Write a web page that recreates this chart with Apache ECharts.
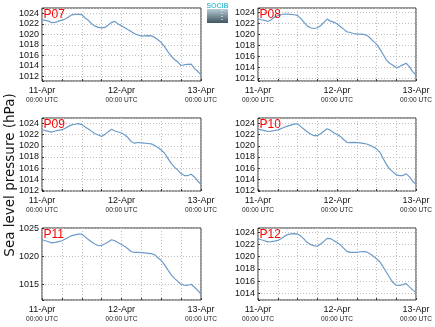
<!DOCTYPE html>
<html><head><meta charset="utf-8">
<script src="https://cdn.jsdelivr.net/npm/echarts@6/dist/echarts.min.js"></script>
<style>html,body{margin:0;padding:0;background:#fff}#c{width:435px;height:327px}</style>
</head><body><div id="c"></div>
<script>
// ---- data ----
const hours = [0,1,2,3,4,5,6,7,8,9,10,11,12,13,14,15,16,17,18,19,20,21,22,23,24,25,26,27,28,29,30,31,32,33,34,35,36,37,38,39,40,41,42,43,44,45,46,47,48];
const stations = ['P07','P08','P09','P10','P11','P12'];
const p07 = [1022.78,1022.65,1022.5,1022.2,1022.25,1022.5,1022.7,1022.9,1023.3,1023.7,1023.8,1023.8,1023.75,1023.1,1022.65,1022.0,1021.55,1021.3,1021.2,1021.3,1021.75,1022.25,1022.45,1021.95,1021.6,1021.25,1020.85,1020.5,1020.1,1019.85,1019.65,1019.7,1019.75,1019.7,1019.4,1018.95,1018.4,1017.65,1016.7,1015.85,1015.2,1014.7,1014.05,1014.2,1014.25,1014.3,1013.5,1012.95,1012.25];
const p08 = [1022.84,1022.66,1022.54,1022.35,1022.66,1023.15,1023.4,1023.57,1023.7,1023.7,1023.63,1023.57,1023.45,1022.9,1022.17,1021.5,1021.2,1021.07,1021.2,1021.56,1022.17,1022.78,1022.41,1022.23,1021.93,1021.44,1020.95,1020.47,1020.34,1020.16,1020.04,1020.04,1019.98,1019.86,1019.37,1018.76,1018.21,1017.36,1016.38,1015.35,1014.74,1014.38,1013.89,1014.13,1014.44,1014.74,1014.13,1013.22,1012.6];
const p09 = [1022.9,1022.73,1022.6,1022.48,1022.67,1022.79,1022.9,1023.15,1023.5,1023.76,1023.88,1024.0,1023.82,1023.4,1023.03,1022.6,1022.18,1021.94,1021.7,1022.06,1022.55,1022.97,1022.67,1022.48,1022.3,1021.94,1021.45,1020.73,1020.48,1020.6,1020.55,1020.48,1020.42,1020.36,1020.06,1019.7,1019.27,1018.67,1017.76,1016.85,1016.18,1015.64,1015.03,1014.67,1014.67,1014.9,1014.42,1013.7,1013.1];
const p10 = [1023.03,1022.88,1022.73,1022.58,1022.64,1022.76,1022.88,1023.09,1023.33,1023.55,1023.73,1023.91,1023.97,1023.45,1022.97,1022.48,1022.12,1021.82,1021.82,1022.18,1022.61,1023.06,1022.79,1022.36,1022.03,1021.7,1021.15,1020.64,1020.58,1020.64,1020.58,1020.52,1020.45,1020.33,1020.12,1019.82,1019.45,1018.91,1017.76,1016.67,1015.82,1015.33,1014.79,1014.67,1014.67,1014.97,1014.48,1013.64,1013.09];
const p11 = [1023.02,1022.84,1022.66,1022.46,1022.54,1022.69,1022.84,1023.14,1023.47,1023.77,1023.89,1024.01,1024.04,1023.53,1023.05,1022.6,1022.25,1021.95,1022.0,1022.31,1022.63,1023.02,1022.84,1022.49,1022.16,1021.83,1021.35,1020.87,1020.75,1020.75,1020.72,1020.66,1020.6,1020.54,1020.33,1019.79,1019.31,1018.53,1017.63,1016.74,1016.11,1015.57,1015.06,1014.91,1014.88,1015.06,1014.58,1013.98,1013.32];
const p12 = [1022.91,1022.74,1022.58,1022.39,1022.42,1022.52,1022.63,1022.91,1023.29,1023.59,1023.7,1023.73,1023.7,1023.34,1022.85,1022.28,1021.95,1021.79,1021.68,1022.06,1022.47,1022.96,1022.93,1022.63,1022.28,1021.92,1021.38,1020.83,1020.67,1020.67,1020.69,1020.78,1020.8,1020.75,1020.45,1020.07,1019.63,1019.14,1018.32,1017.44,1016.57,1015.75,1015.31,1015.28,1015.42,1015.58,1015.04,1014.55,1014.11];
const yMin = [1011.1, 1011.5, 1011.9, 1011.9, 1012.25, 1012.9];
const yMax = [1025.0, 1024.8, 1025.0, 1025.0, 1025.12, 1024.66];
const yStep = [2, 2, 2, 2, 5, 2];
const dayLabels = ['11-Apr', '12-Apr', '13-Apr'];
const dayHours = [0, 24, 48];
const timeLabel = '00:00 UTC';
const yTitle = 'Sea level pressure (hPa)';
const logoText = 'SOCIB';

// ---- layout ----
const series = [p07, p08, p09, p10, p11, p12];
const colLeft = [42, 258];
const colWidth = [159, 158];
const rowTop = [8, 118, 228];
const rowHeight = [73, 73, 72];
const LINE = '#6b9bc9';
const FONT = '"Liberation Sans", Arial, Helvetica, sans-serif';

const chart = echarts.init(document.getElementById('c'), null, {renderer: 'canvas'});
const grids = [], xAxes = [], yAxes = [], ser = [], graphics = [];
stations.forEach((name, i) => {
  const c = i % 2, r = Math.floor(i / 2);
  grids.push({left: colLeft[c], top: rowTop[r], width: colWidth[c], height: rowHeight[r],
    show: true, borderColor: '#333', borderWidth: 1, backgroundColor: '#fff', containLabel: false});
  xAxes.push({
    type: 'value', gridIndex: i, min: 0, max: 48, interval: 6,
    axisLine: {show: false},
    axisTick: {show: true, inside: true, length: 2, lineStyle: {color: '#333'}},
    splitLine: {show: true, lineStyle: {color: '#bdbdbd', type: [1, 2], width: 1}},
    axisLabel: {
      show: true, margin: 4, hideOverlap: false, showMinLabel: true, showMaxLabel: true,
      formatter: v => {
        const k = dayHours.indexOf(Math.round(v));
        return (k >= 0 && Math.abs(v - Math.round(v)) < 1e-6) ? '{a|' + dayLabels[k] + '}\n{b|' + timeLabel + '}' : '';
      },
      rich: {
        a: {fontSize: 9, fontFamily: FONT, color: '#111', lineHeight: 11, align: 'center'},
        b: {fontSize: 6.6, fontFamily: FONT, color: '#222', lineHeight: 9, align: 'center'}
      }
    }
  });
  const step = yStep[i];
  yAxes.push({
    type: 'value', gridIndex: i, min: yMin[i], max: yMax[i], splitNumber: Math.round((yMax[i] - yMin[i]) / step),
    axisLine: {show: false},
    axisTick: {show: true, inside: true, length: 2, lineStyle: {color: '#333'}},
    splitLine: {show: true, lineStyle: {color: '#bdbdbd', type: [1, 2], width: 1}},
    axisLabel: {
      margin: 3, fontSize: 9, fontFamily: FONT, color: '#111', hideOverlap: false,
      formatter: v => {
        const rv = Math.round(v);
        return (Math.abs(v - rv) < 1e-6 && rv % step === 0) ? String(rv) : '';
      }
    }
  });
  ser.push({
    type: 'line', xAxisIndex: i, yAxisIndex: i, showSymbol: false, symbol: 'none',
    data: hours.map((h, k) => [h, series[i][k]]),
    lineStyle: {color: LINE, width: 1.2}, itemStyle: {color: LINE}, animation: false, silent: true
  });
  graphics.push({
    type: 'text', left: colLeft[c] + 1.5, top: rowTop[r] + 0.5, z: 100,
    style: {text: name, fill: '#ff0000', fontSize: 12, fontFamily: FONT}
  });
});

graphics.push({
  type: 'text', x: 10, y: 175, rotation: Math.PI / 2, z: 100,
  style: {text: yTitle, fill: '#111', fontSize: 13.5, fontFamily: '"DejaVu Sans", sans-serif', align: 'center', verticalAlign: 'middle'}
});
// logo
graphics.push({
  type: 'rect', shape: {x: 207, y: 9, width: 21, height: 14}, z: 100,
  style: {fill: new echarts.graphic.LinearGradient(0, 0, 0, 1, [{offset: 0, color: '#b6ccd6'}, {offset: 1, color: '#3e5561'}])}
});
graphics.push({
  type: 'line', shape: {x1: 222, y1: 10, x2: 222, y2: 22}, z: 101,
  style: {stroke: '#ffffff', lineWidth: 1, lineDash: [1, 2]}
});
graphics.push({
  type: 'text', x: 217.5, y: 6, z: 101,
  style: {text: logoText, fill: '#52c3d6', fontSize: 7, fontFamily: FONT, align: 'center', verticalAlign: 'middle', fontWeight: 'bold'}
});

chart.setOption({
  animation: false,
  backgroundColor: '#fff',
  grid: grids, xAxis: xAxes, yAxis: yAxes, series: ser, graphic: graphics
});
</script></body></html>
